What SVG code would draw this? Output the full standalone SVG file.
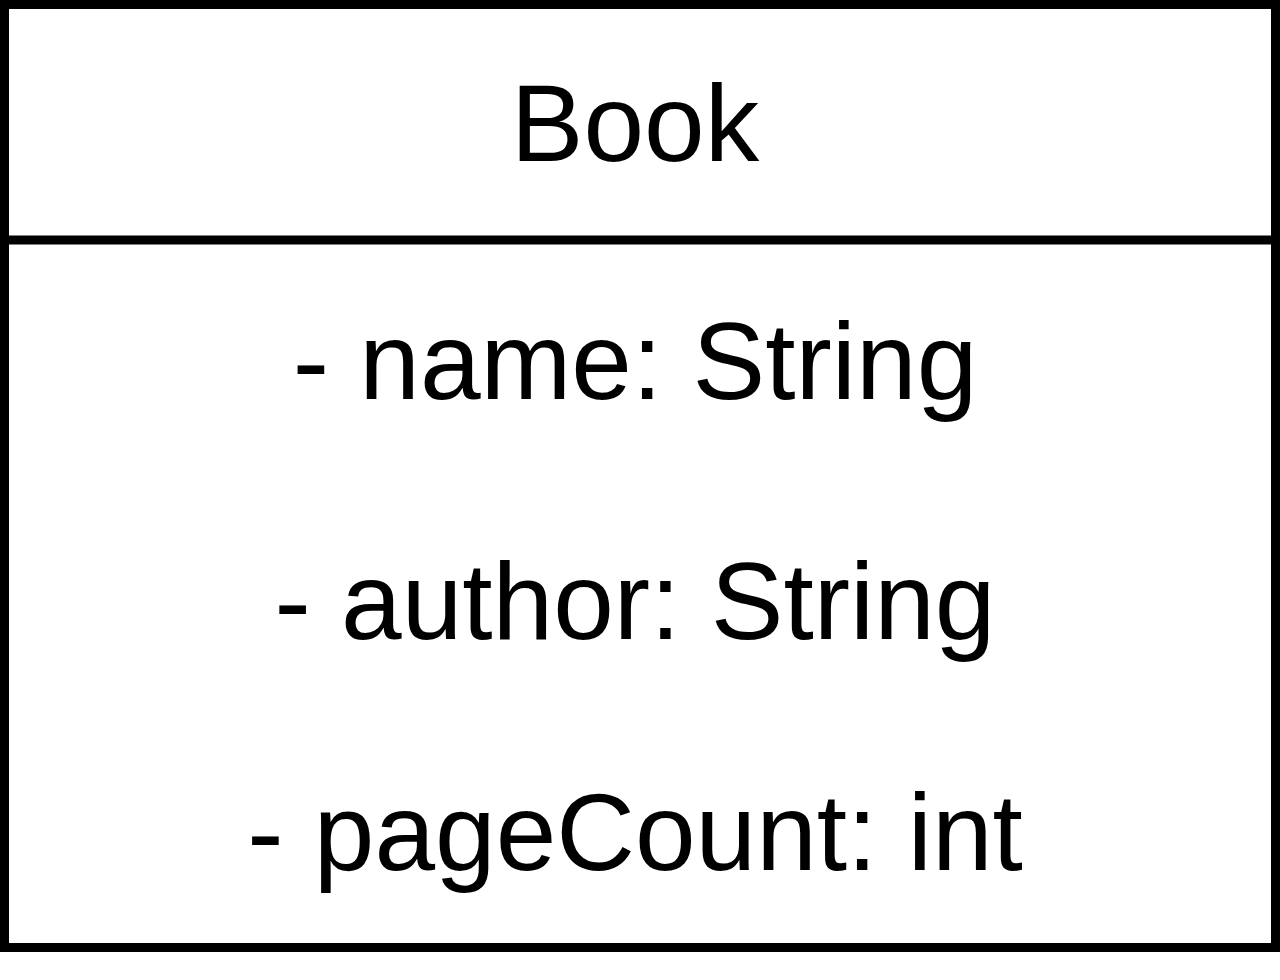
<svg xmlns="http://www.w3.org/2000/svg" width="1280" height="980" viewBox="0 0 1280 980">
<style>
.t{font-family:"Liberation Sans",Arial,sans-serif;font-size:109px;fill:#000;text-anchor:middle}
.b{fill:#fff;stroke:#000;stroke-width:9}
</style>
<rect width="1280" height="980" fill="#fff"/>
<g id="class-Book">
<rect class="b" x="4.5" y="4.5" width="1271" height="943"/>
<line x1="4" y1="240" x2="1276" y2="240" stroke="#000" stroke-width="9"/>
<text class="t" x="635" y="161">Book</text>
<text class="t" x="635" y="399">- name: String</text>
<text class="t" x="635" y="639">- author: String</text>
<text class="t" x="635" y="870">- pageCount: int</text>
</g>
<g id="connectors"/>
</svg>
